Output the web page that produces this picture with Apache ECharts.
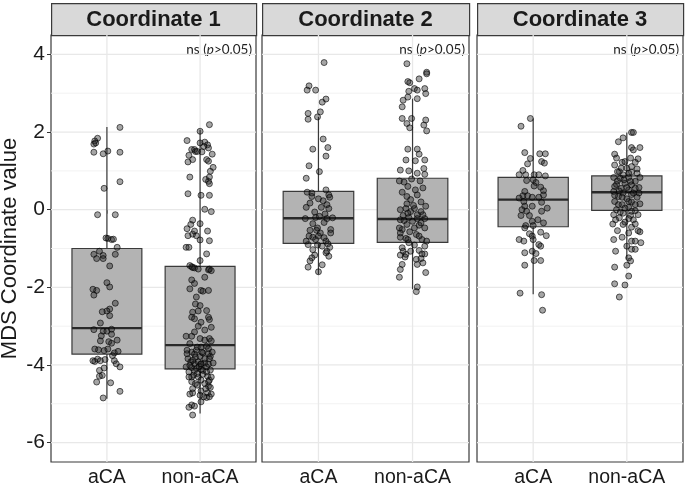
<!DOCTYPE html>
<html>
<head>
<meta charset="utf-8">
<script src="https://cdn.jsdelivr.net/npm/echarts@6/dist/echarts.min.js"></script>
<style>
  html, body { margin: 0; padding: 0; background: #fff; }
  #main { width: 685px; height: 489px; }
</style>
</head>
<body>
<div id="main"></div>
<script>
// facet titles and groups
var panels = ['Coordinate 1', 'Coordinate 2', 'Coordinate 3'];
var categories = ['aCA', 'non-aCA'];
var yTicks = [-6, -4, -2, 0, 2, 4];
var yMinor = [-5, -3, -1, 1, 3];
var pLabel = 'ns ({i|p}>0.05)';

// box stats per group: [lower whisker, Q1, median, Q3, upper whisker]
var box1 = [[-4.87, -3.72, -3.05, -1.00, 2.13], [-5.25, -4.10, -3.49, -1.46, 2.06]];
var box2 = [[-1.67, -0.87, -0.22, 0.47, 2.39], [-2.05, -0.84, -0.24, 0.81, 2.86]];
var box3 = [[-2.18, -0.44, 0.26, 0.83, 2.35], [-1.28, -0.02, 0.45, 0.87, 1.99]];

// jittered points: [jitter offset, value]
var c1_aCA = [[0.14,2.12],[-0.10,1.84],[-0.13,1.77],[-0.14,1.69],[-0.12,1.72],[-0.14,1.48],[-0.04,1.44],[0.01,1.51],[0.14,1.48],
  [0.14,0.72],[-0.03,0.55],[-0.10,-0.13],[0.09,-0.13],[-0.01,-0.73],[0.01,-0.74],[0.05,-0.77],[0.07,-0.76],[0.11,-0.97],
  [-0.08,-1.07],[-0.14,-1.15],[-0.11,-1.26],[-0.04,-1.18],[-0.04,-1.26],[0.09,-1.15],[0.03,-1.45],[0,-1.88],[0.03,-1.99],
  [-0.15,-2.05],[-0.11,-2.08],[-0.14,-2.20],[0.09,-2.41],[0.03,-2.56],[0,-2.61],[-0.05,-2.63],[0.03,-2.73],[-0.07,-2.92],
  [-0.14,-3.09],[-0.04,-3.13],[0,-3.13],[0.05,-3.08],[-0.06,-3.25],[0.05,-3.21],[-0.07,-3.38],[0.02,-3.40],[0.05,-3.44],
  [0.11,-3.36],[-0.13,-3.59],[-0.09,-3.61],[-0.03,-3.63],[0.01,-3.59],[0.08,-3.69],[0.12,-3.65],[0.06,-3.76],[-0.15,-3.89],
  [-0.13,-3.91],[-0.10,-3.85],[-0.07,-3.89],[-0.02,-3.86],[0.08,-3.89],[0.10,-3.97],[0.14,-4.05],[-0.03,-4.08],[-0.08,-4.14],
  [-0.05,-4.27],[-0.08,-4.29],[-0.11,-4.44],[0.04,-4.46],[0.14,-4.68],[-0.04,-4.85]];
var c1_non = [[0.10,2.19],[0,2.02],[-0.14,1.78],[0,1.72],[0.05,1.74],[0.08,1.67],[0.09,1.59],[-0.09,1.55],[-0.06,1.55],
  [-0.05,1.50],[-0.12,1.40],[0.02,1.49],[0.13,1.43],[0.07,1.29],[-0.08,1.29],[-0.13,1.23],[0.14,1.09],[0.11,0.99],
  [-0.11,0.84],[0.06,0.78],[0.09,0.73],[0.10,0.67],[-0.13,0.41],[0.01,0.37],[0.10,0.37],[0.05,0.01],[0.12,-0.05],
  [-0.08,-0.27],[0,-0.36],[-0.14,-0.49],[0.08,-0.55],[-0.08,-0.63],[-0.04,-0.67],[-0.13,-0.67],[0,-0.78],[0.10,-0.80],
  [-0.15,-0.97],[-0.12,-0.97],[0.07,-1.14],[0,-1.31],[-0.11,-1.44],[-0.09,-1.47],[-0.06,-1.50],[-0.02,-1.53],[0.09,-1.55],
  [0.10,-1.53],[0.05,-1.74],[-0.09,-1.81],[-0.06,-1.90],[-0.11,-2.04],[0.01,-2.08],[0.03,-2.10],[0.09,-2.08],[-0.05,-2.43],
  [0,-2.47],[-0.08,-2.64],[0.07,-2.60],[-0.02,-2.61],[-0.09,-2.77],[-0.06,-2.81],[0.10,-2.83],[-0.02,-3.00],[0.12,-3.03],
  [0.05,-3.10],[-0.15,-3.26],[-0.09,-3.26],[0,-3.32],[0.10,-3.32],[0.12,-3.38],[-0.11,-3.45],[0.01,-3.54],[0.07,-3.52],
  [0.09,-3.58],[-0.14,-3.62],[-0.09,-3.67],[-0.06,-3.72],[-0.04,-3.62],[0,-3.78],[0.03,-3.69],[0.09,-3.71],[0.11,-3.78],
  [0.13,-3.67],[-0.13,-3.84],[-0.10,-3.92],[-0.06,-3.97],[-0.02,-3.92],[0.01,-3.98],[0.05,-3.95],[0.09,-3.98],[0.14,-3.95],
  [-0.15,-4.05],[-0.09,-4.07],[-0.04,-4.09],[0.01,-4.12],[0.07,-4.05],[0.11,-4.13],[-0.12,-4.18],[-0.07,-4.26],[-0.02,-4.31],
  [0.03,-4.24],[0.08,-4.29],[0.10,-4.39],[-0.09,-4.43],[-0.05,-4.48],[0.05,-4.48],[0.09,-4.55],[0.11,-4.58],[-0.08,-4.61],
  [0.01,-4.67],[0.08,-4.72],[0.12,-4.75],[0.07,-4.84],[0.10,-4.82],[-0.11,-4.75],[-0.08,-4.72],[0.01,-4.95],[-0.09,-5.03],
  [-0.12,-5.09],[-0.06,-5.06],[-0.08,-5.29],
  [-0.05,-3.80],[0.05,-3.84],[-0.11,-4.01],[-0.01,-4.04],[0.03,-4.14],[-0.06,-4.15],[-0.09,-4.31],[0.01,-4.39],[-0.03,-4.52],
  [0.06,-4.61],[0.09,-4.43],[0.12,-4.31],[-0.14,-3.71],[-0.03,-3.54],[0.05,-3.36],[-0.06,-3.15],[0.09,-2.77],[0.01,-2.90],
  [-0.04,-2.25],[0.12,-1.57],[-0.10,-0.38],[-0.06,-0.55],[-0.03,1.50],[0.04,1.63],[0.09,1.25],[0.10,0.84],[-0.08,-1.49],
  [0.01,-3.97],[0.07,-4.18],[-0.12,-4.31],[0.04,-4.82],[0,-4.78],[-0.03,-4.22],[-0.08,-3.88],[0.10,-3.84],[0.02,-3.67]];
var c2_aCA = [[0.06,3.79],[-0.10,3.19],[-0.12,3.08],[-0.03,3.08],[0.08,2.85],[0.04,2.77],[-0.11,2.48],[-0.11,2.33],[-0.01,2.39],
  [0.02,2.52],[0.05,1.82],[-0.06,1.56],[0.10,1.60],[0.08,1.38],[-0.10,1.13],[0.01,0.98],[-0.13,0.81],[-0.12,0.45],
  [-0.07,0.43],[0.08,0.51],[0.11,0.38],[-0.07,0.34],[0,0.28],[0.05,0.23],[0.12,0.32],[0.09,0.13],[-0.13,0.06],[0.11,0.03],
  [0.07,-0.11],[-0.14,-0.23],[-0.03,-0.20],[0.01,-0.17],[0.09,-0.23],[0.15,-0.21],[-0.06,-0.36],[-0.01,-0.47],[-0.02,-0.53],
  [0.02,-0.60],[0.13,-0.51],[0.13,-0.60],[-0.10,-0.68],[-0.06,-0.71],[-0.03,-0.77],[-0.11,-0.90],[-0.01,-0.91],[0.08,-0.81],
  [0.10,-0.88],[0.12,-0.97],[0.04,-0.94],[0.09,-1.07],[0.11,-1.20],[-0.04,-1.17],[-0.07,-1.24],[-0.09,-1.32],[0.04,-1.42],
  [-0.11,-1.48],[0,-1.60],
  [-0.09,0.17],[0.03,0.06],[-0.04,-0.06],[0.06,-0.33],[-0.09,-0.53],[0,-0.68],[0.06,-0.72],[-0.13,-0.81],[-0.06,-1.03],[0.08,-1.11]];
var c2_non = [[-0.06,3.76],[0.07,3.37],[0.15,3.54],[0.15,3.50],[-0.05,3.30],[-0.03,3.27],[0.02,3.12],[0.05,3.08],[0.13,3.12],
  [0.14,2.99],[-0.04,3.05],[-0.10,2.82],[-0.05,2.90],[0.05,2.86],[-0.11,2.65],[-0.11,2.35],[-0.01,2.35],[-0.06,2.22],
  [-0.03,2.11],[0.14,2.31],[0.12,2.18],[0.15,2.03],[-0.05,1.56],[0.05,1.56],[0.07,1.43],[-0.07,1.28],[0.03,1.26],[0.13,1.28],
  [0.12,1.06],[-0.13,1.02],[-0.04,1.00],[0.05,0.94],[0.13,0.91],[-0.14,0.74],[-0.09,0.71],[-0.01,0.79],[0.08,0.74],
  [-0.05,0.60],[0.03,0.51],[0.11,0.56],[-0.11,0.45],[0.05,0.38],[-0.02,0.26],[0.09,0.20],[-0.06,0.15],[0.14,0.09],
  [-0.13,0.00],[0.02,0.03],[0.09,-0.05],[-0.10,-0.15],[-0.04,-0.20],[0.05,-0.13],[0.13,-0.23],[-0.13,-0.26],[0,-0.30],
  [-0.06,-0.38],[0.07,-0.40],[0.13,-0.47],[-0.11,-0.51],[-0.03,-0.57],[0.04,-0.64],[-0.13,-0.71],[-0.07,-0.74],[0.10,-0.77],
  [0.15,-0.81],[-0.04,-0.85],[0.02,-0.91],[-0.11,-0.98],[0.07,-1.05],[0.13,-1.14],[-0.13,-1.17],[-0.08,-1.22],[0.09,-1.26],
  [0.11,-1.37],[-0.11,-1.41],[0.05,-1.41],[-0.13,-1.54],[0.14,-1.62],[-0.14,-1.74],[0.05,-1.99],[0.04,-2.11],
  [-0.07,0.03],[-0.02,-0.05],[0.05,-0.23],[-0.09,-0.28],[0.09,-0.34],[0.02,-0.47],[-0.13,-0.60],[0.07,-0.68],[-0.05,-0.77],
  [0.13,-0.94],[-0.02,-1.07],[-0.07,-1.15],[0.10,-1.14],[0.04,-1.28],[-0.10,-1.07],[-0.06,0.34],[0.01,0.11],[-0.05,-0.09],
  [0.11,-0.13],[-0.14,-0.47]];
var c3_aCA = [[-0.03,2.35],[-0.13,2.15],[-0.09,1.47],[0.07,1.44],[0.13,1.44],[-0.03,1.32],[-0.06,1.18],[0.09,1.24],[0.12,1.20],
  [-0.11,1.01],[-0.08,0.90],[-0.15,0.90],[0.01,0.90],[0.06,0.90],[0.13,0.87],[-0.07,0.75],[0,0.77],[0.03,0.70],[0.01,0.61],
  [0.08,0.58],[0.11,0.49],[-0.09,0.47],[-0.11,0.36],[-0.06,0.36],[-0.01,0.32],[0.06,0.32],[0.11,0.38],[-0.15,0.30],
  [-0.10,0.21],[0.09,0.19],[-0.09,0.09],[-0.01,0.09],[0.15,0.04],[-0.12,0.00],[-0.07,-0.04],[0.09,-0.04],[-0.13,-0.15],
  [-0.04,-0.15],[0.05,-0.26],[-0.01,-0.30],[0.11,-0.34],[-0.08,-0.41],[0,-0.41],[-0.09,-0.47],[-0.04,-0.62],[0.08,-0.58],
  [-0.01,-0.68],[0.14,-0.67],[0,-0.77],[-0.15,-0.77],[-0.10,-0.81],[0.06,-0.90],[0.08,-0.94],[-0.01,-1.07],[-0.09,-1.11],
  [0.03,-1.13],[-0.09,-1.43],[0.01,-1.31],[0.08,-1.31],[-0.14,-2.15],[0.09,-2.19],[0.10,-2.59]];
var c3_non = [[0.05,1.99],[0.07,1.99],[-0.09,1.75],[-0.04,1.85],[0.05,1.60],[0.14,1.60],[0.07,1.54],[-0.13,1.43],[-0.11,1.33],
  [0.04,1.33],[0.12,1.31],[-0.05,1.22],[0.09,1.22],[-0.13,1.15],[0,1.07],[0.11,1.05],[-0.08,0.98],[0.05,0.97],[-0.04,0.90],
  [-0.14,0.83],[0.02,0.83],[0.14,0.83],[-0.10,0.74],[0.09,0.73],[-0.02,0.68],[0.05,0.64],[-0.13,0.60],[-0.06,0.55],
  [0.13,0.57],[0.02,0.51],[-0.14,0.47],[-0.04,0.43],[0.07,0.43],[-0.09,0.34],[0.11,0.32],[0,0.28],[-0.13,0.21],[0.05,0.20],
  [-0.05,0.13],[0.14,0.15],[0.02,0.06],[-0.11,0.00],[0.09,-0.03],[-0.04,-0.09],[-0.14,-0.13],[0.04,-0.15],[-0.08,-0.21],
  [0.07,-0.26],[-0.02,-0.32],[-0.15,-0.37],[0.09,-0.37],[-0.10,-0.54],[0.12,-0.54],[0.14,-0.57],[0.02,-0.60],[-0.05,-0.71],
  [0.05,-0.81],[0.09,-0.81],[0.15,-0.85],[0,-0.94],[0.05,-1.02],[0.09,-1.02],[-0.14,-0.77],[-0.12,-1.07],[0.02,-1.24],
  [0.04,-1.32],[-0.13,-1.48],[0,-1.43],[0.02,-1.71],[-0.13,-1.91],[-0.02,-1.94],[-0.08,-2.25],
  [-0.07,0.81],[-0.03,0.77],[0.04,0.73],[-0.11,0.65],[0.09,0.55],[0,0.57],[-0.08,0.48],[0.05,0.39],[-0.05,0.32],[-0.13,0.37],
  [0.13,0.43],[0.02,0.21],[0.09,0.13],[-0.09,0.13],[-0.02,0.04],[0.05,-0.04],[-0.07,-0.06],[0.12,-0.13],[0.02,-0.23],
  [-0.12,-0.26],[-0.04,-0.38],[0.05,-0.45],[-0.06,1.07],[0.05,1.11],[-0.02,1.24],[-0.10,0.98],[0.11,0.94],[0.02,0.94]];

var boxes = [box1, box2, box3];
var points = [[c1_aCA, c1_non], [c2_aCA, c2_non], [c3_aCA, c3_non]];

var chart = echarts.init(document.getElementById('main'));
var font = 'Liberation Sans';
var panelLeft = [51, 262, 477];
var panelWidth = [205, 207, 206];
var panelTop = 35;
var panelHeight = 427;

var grids = [], xAxes = [], yAxes = [], series = [], graphics = [];

for (var i = 0; i < 3; i++) {
    grids.push({
        left: panelLeft[i], top: panelTop, width: panelWidth[i], height: panelHeight,
        outerBoundsMode: 'none', containLabel: false,
        show: true, borderColor: '#3a3a3a', borderWidth: 1.2, backgroundColor: '#fff'
    });
    xAxes.push({
        type: 'value', gridIndex: i, min: 0.4, max: 2.6,
        axisLine: { show: false },
        splitLine: { show: false },
        axisTick: { show: true, customValues: [1, 2], length: 4, lineStyle: { color: '#333' } },
        axisLabel: {
            customValues: [1, 2], margin: 6, fontSize: 19.5, color: '#1a1a1a', fontFamily: font,
            formatter: function (v) { return categories[Math.round(v) - 1]; }
        }
    });
    yAxes.push({
        type: 'value', gridIndex: i, min: -6.5, max: 4.5,
        name: i === 0 ? 'MDS Coordinate value' : '',
        nameLocation: 'middle', nameGap: 30, nameRotate: 90,
        nameTextStyle: { fontSize: 22, color: '#1a1a1a', fontFamily: font },
        axisLine: { show: false },
        splitLine: { show: false },
        axisTick: { show: i === 0, customValues: yTicks, length: 4, lineStyle: { color: '#333' } },
        axisLabel: { show: i === 0, customValues: yTicks, margin: 6, fontSize: 21, color: '#1a1a1a', fontFamily: font }
    });

    // grid lines (minor first, then major)
    series.push({
        type: 'custom', xAxisIndex: i, yAxisIndex: i, silent: true, z: 1,
        data: yMinor.map(function (v) { return [v, 0]; })
            .concat(yTicks.map(function (v) { return [v, 1]; })),
        renderItem: function (params, api) {
            var v = api.value(0), major = api.value(1);
            var a = api.coord([0.4, v]), b = api.coord([2.6, v]);
            return {
                type: 'line', shape: { x1: a[0], y1: a[1], x2: b[0], y2: b[1] },
                style: { stroke: major ? '#e8e8e8' : '#f1f1f1', lineWidth: major ? 1.3 : 0.9 }
            };
        }
    });
    series.push({
        type: 'custom', xAxisIndex: i, yAxisIndex: i, silent: true, z: 1,
        data: [[1, 0], [2, 0]],
        renderItem: function (params, api) {
            var x = api.value(0);
            var a = api.coord([x, -6.5]), b = api.coord([x, 4.5]);
            return {
                type: 'line', shape: { x1: a[0], y1: a[1], x2: b[0], y2: b[1] },
                style: { stroke: '#e8e8e8', lineWidth: 1.3 }
            };
        }
    });

    // boxes
    series.push({
        type: 'custom', xAxisIndex: i, yAxisIndex: i, silent: true, z: 2,
        data: boxes[i].map(function (s, k) { return [k + 1].concat(s); }),
        renderItem: function (params, api) {
            var x = api.value(0);
            var half = api.size([0.75, 0])[0] / 2;
            var pMin = api.coord([x, api.value(1)]);
            var pQ1 = api.coord([x, api.value(2)]);
            var pMed = api.coord([x, api.value(3)]);
            var pQ3 = api.coord([x, api.value(4)]);
            var pMax = api.coord([x, api.value(5)]);
            var stroke = '#3a3a3a';
            return {
                type: 'group',
                children: [
                    { type: 'line', shape: { x1: pMin[0], y1: pMin[1], x2: pQ1[0], y2: pQ1[1] }, style: { stroke: stroke, lineWidth: 1.2 } },
                    { type: 'line', shape: { x1: pQ3[0], y1: pQ3[1], x2: pMax[0], y2: pMax[1] }, style: { stroke: stroke, lineWidth: 1.2 } },
                    { type: 'rect', shape: { x: pQ3[0] - half, y: pQ3[1], width: half * 2, height: pQ1[1] - pQ3[1] },
                      style: { fill: '#b3b3b3', stroke: stroke, lineWidth: 1.2 } },
                    { type: 'line', shape: { x1: pMed[0] - half, y1: pMed[1], x2: pMed[0] + half, y2: pMed[1] },
                      style: { stroke: '#2a2a2a', lineWidth: 2.4 } }
                ]
            };
        }
    });

    // jittered points
    for (var k = 0; k < 2; k++) {
        series.push({
            type: 'scatter', xAxisIndex: i, yAxisIndex: i, z: 3, silent: true,
            symbol: 'circle', symbolSize: 6,
            data: points[i][k].map(function (p) { return [this.c + p[0], p[1]]; }, { c: k + 1 }),
            itemStyle: { color: 'rgba(30,30,30,0.5)', borderColor: 'rgba(0,0,0,0.75)', borderWidth: 1 }
        });
    }

    // strip
    graphics.push({
        type: 'rect', left: panelLeft[i], top: 3,
        shape: { width: panelWidth[i], height: panelTop - 3 },
        style: { fill: '#d9d9d9', stroke: '#3a3a3a', lineWidth: 1.2 }
    });
    graphics.push({
        type: 'text', x: panelLeft[i] + panelWidth[i] / 2, y: 20,
        style: { text: panels[i], textAlign: 'center', textVerticalAlign: 'middle',
                 font: 'bold 22px "Liberation Sans"', fill: '#1a1a1a' }
    });
    graphics.push({
        type: 'text', x: panelLeft[i] + panelWidth[i] - 4, y: 50,
        style: { text: pLabel, textAlign: 'right', textVerticalAlign: 'middle',
                 font: '13.5px Lato', fill: '#222',
                 rich: { i: { fontStyle: 'italic', fontSize: 13.5, fontFamily: 'Lato', fill: '#222' } } }
    });
}

var option = {
    animation: false,
    backgroundColor: '#fff',
    grid: grids,
    xAxis: xAxes,
    yAxis: yAxes,
    series: series,
    graphic: graphics
};

chart.setOption(option);
</script>
</body>
</html>
